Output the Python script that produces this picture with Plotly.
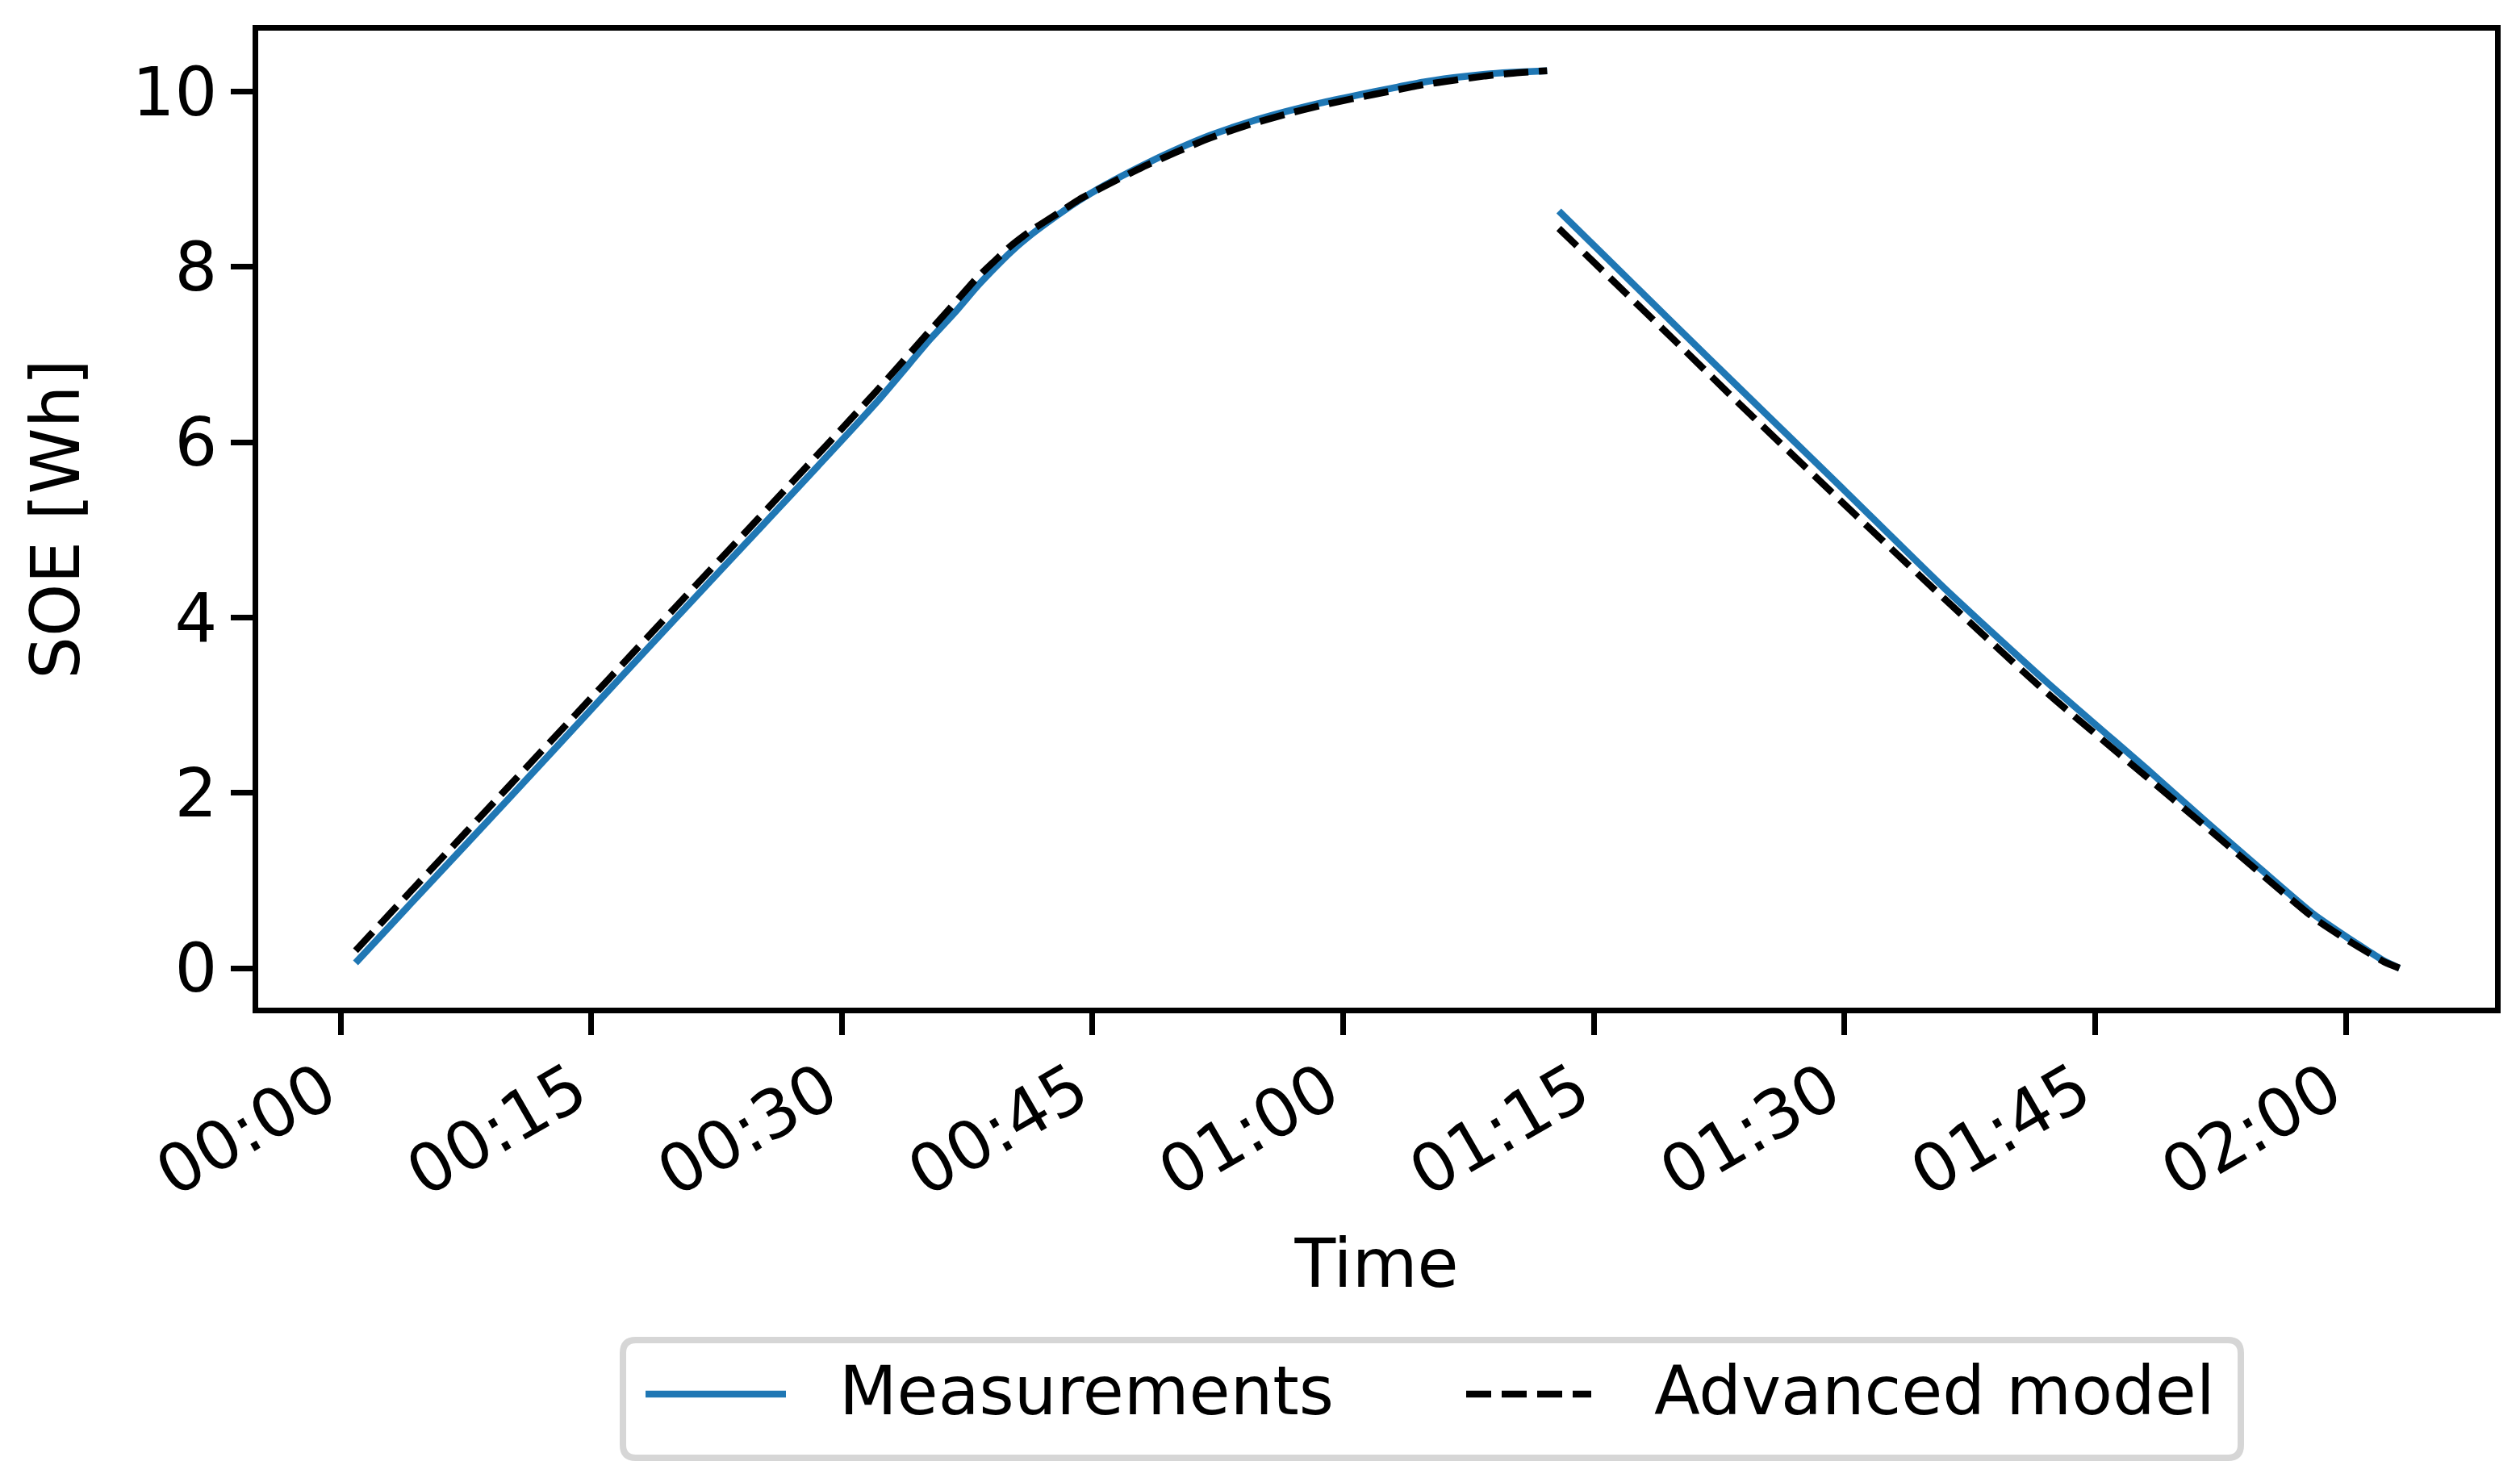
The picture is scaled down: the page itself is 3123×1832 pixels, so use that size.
import plotly.graph_objects as go

# ---------------- data (minutes since start, SOE in Wh) ----------------
t_charge = [0.9, 5, 10, 16.2, 20, 25, 32, 35.3, 36.8, 38.1, 39.2, 40.1, 41.2, 42.9, 44.2, 45.7, 48, 50, 52, 54.3,
            56.5, 58.6, 60.8, 62.9, 64.8, 66.6, 68.5, 70, 72.2]
meas_charge = [0.06, 0.90, 1.92, 3.20, 3.98, 5.00, 6.44, 7.18, 7.49, 7.78, 8.00, 8.17, 8.35, 8.59, 8.76, 8.93, 9.16,
               9.34, 9.50, 9.65, 9.77, 9.87, 9.96, 10.04, 10.11, 10.16, 10.20, 10.22, 10.24]
model_charge = [0.20, 1.04, 2.06, 3.33, 4.11, 5.13, 6.57, 7.28, 7.60, 7.88, 8.08, 8.24, 8.40, 8.61, 8.77, 8.92, 9.14,
                9.31, 9.47, 9.62, 9.74, 9.84, 9.93, 10.01, 10.08, 10.13, 10.18, 10.21, 10.24]

t_discharge = [72.9, 76, 80, 83.7, 90, 96, 102, 108.4, 111.7, 114.9, 118.1, 120, 121.3, 122.3, 123.2]
meas_discharge = [8.64, 8.06, 7.31, 6.62, 5.45, 4.33, 3.28, 2.22, 1.66, 1.13, 0.61, 0.36, 0.20, 0.08, 0.00]
model_discharge = [8.44, 7.87, 7.13, 6.44, 5.29, 4.21, 3.16, 2.13, 1.60, 1.08, 0.57, 0.33, 0.18, 0.07, 0.00]

tick_minutes = [0, 15, 30, 45, 60, 75, 90, 105, 120]
tick_labels = ["00:00", "00:15", "00:30", "00:45", "01:00", "01:15", "01:30", "01:45", "02:00"]
y_ticks = [0, 2, 4, 6, 8, 10]

series_names = ["Measurements", "Advanced model"]
BLUE = "#1f77b4"
FONT = "DejaVu Sans"
FS = 83

# ---------------- figure ----------------
W, H = 3123, 1832
L, R, T, B = 320, 3092, 38, 1249

x_all = t_charge + [None] + t_discharge
meas_all = meas_charge + [None] + meas_discharge
model_all = model_charge + [None] + model_discharge

fig = go.Figure()
fig.add_trace(go.Scatter(x=x_all, y=meas_all, mode="lines", name=series_names[0],
                         line=dict(color=BLUE, width=8.5, shape="spline", smoothing=0.6),
                         connectgaps=False, showlegend=False))
fig.add_trace(go.Scatter(x=x_all, y=model_all, mode="lines", name=series_names[1],
                         line=dict(color="black", width=8.5, dash="31px,13px", shape="spline", smoothing=0.6),
                         connectgaps=False, showlegend=False))

fig.update_layout(
    width=W, height=H,
    margin=dict(l=L, r=W - R, t=T, b=H - B, autoexpand=False),
    paper_bgcolor="white", plot_bgcolor="white",
    font=dict(family=FONT, size=FS, color="black"),
)

fig.update_xaxes(
    range=[-4.925, 128.92], tickvals=tick_minutes, ticktext=tick_labels,
    tickangle=-30, ticklabelstandoff=-12, ticklabelshift=-20,
    showgrid=False, zeroline=False,
    showline=True, linecolor="black", linewidth=7, mirror=True,
    ticks="outside", ticklen=27, tickwidth=7, tickcolor="black",
    tickfont=dict(family=FONT, size=FS),
    title=dict(text="Time", font=dict(family=FONT, size=FS), standoff=38),
)
fig.update_yaxes(
    range=[-0.451, 10.697], tickvals=y_ticks,
    showgrid=False, zeroline=False,
    showline=True, linecolor="black", linewidth=7, mirror=True,
    ticks="outside", ticklen=27, tickwidth=7, tickcolor="black",
    tickfont=dict(family=FONT, size=FS),
    title=dict(text="SOE [Wh]", font=dict(family=FONT, size=FS), standoff=40),
)

# ---------------- legend (drawn like a matplotlib legend box) ----------------
def px(xp):
    return (xp - L) / (R - L)

def py(yp):
    return (B - yp) / (B - T)

bx0, bx1, by0, by1 = 772, 2777, 1661, 1807
r = 16
rx, ry = r / (R - L), r / (B - T)
X0, X1, Y0, Y1 = px(bx0), px(bx1), py(by1), py(by0)
path = (f"M {X0+rx},{Y0} L {X1-rx},{Y0} Q {X1},{Y0} {X1},{Y0+ry} "
        f"L {X1},{Y1-ry} Q {X1},{Y1} {X1-rx},{Y1} L {X0+rx},{Y1} "
        f"Q {X0},{Y1} {X0},{Y1-ry} L {X0},{Y0+ry} Q {X0},{Y0} {X0+rx},{Y0} Z")
fig.add_shape(type="path", path=path, xref="paper", yref="paper",
              line=dict(color="#d6d6d6", width=8), fillcolor="white", layer="above")

ly = py(1728)
fig.add_shape(type="line", xref="paper", yref="paper", x0=px(800), x1=px(974), y0=ly, y1=ly,
              line=dict(color=BLUE, width=8.5), layer="above")
fig.add_shape(type="line", xref="paper", yref="paper", x0=px(1817), x1=px(1972), y0=ly, y1=ly,
              line=dict(color="black", width=8.5, dash="31px,13px"), layer="above")
fig.add_annotation(x=px(1038), y=py(1724), xref="paper", yref="paper", text=series_names[0],
                   showarrow=False, xanchor="left", yanchor="middle",
                   font=dict(family=FONT, size=FS, color="black"))
fig.add_annotation(x=px(2048), y=py(1724), xref="paper", yref="paper", text=series_names[1],
                   showarrow=False, xanchor="left", yanchor="middle",
                   font=dict(family=FONT, size=FS, color="black"))

fig.write_html("out.html", config={"displayModeBar": False},
               post_script="document.body.style.margin='0px';")
